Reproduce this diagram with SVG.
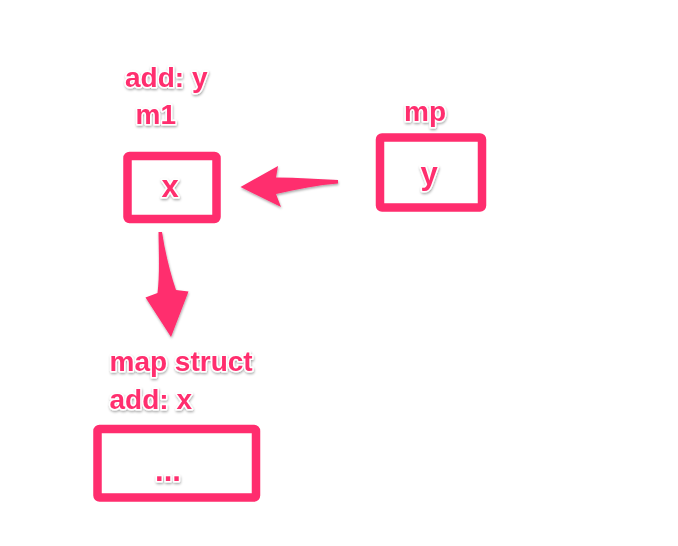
<svg xmlns="http://www.w3.org/2000/svg" width="678" height="546" viewBox="0 0 678 546">
<defs>
<filter id="sh" x="-20%" y="-30%" width="140%" height="160%">
<feDropShadow dx="0.5" dy="1.5" stdDeviation="1" flood-color="#000" flood-opacity="0.35"/>
</filter>
<style>
.box{fill:#fff;stroke:#FF2D6E;stroke-width:8.5;stroke-linejoin:round}
.t{font-family:"Liberation Sans",Arial,sans-serif;font-weight:bold;fill:#FF2D6E;stroke:#fff;stroke-width:3;paint-order:stroke;stroke-linejoin:round;filter:url(#sh)}
.lbl{font-size:28px}
.val{font-size:31px;text-anchor:middle}
.arr{fill:#FF2D6E;filter:url(#sh)}
</style>
</defs>
<rect width="678" height="546" fill="#fff"/>
<g id="m1">
<text class="t lbl" x="125" y="87">add: y</text>
<text class="t lbl" x="135.5" y="124">m1</text>
<rect class="box" x="127.5" y="156" width="89" height="63" rx="2"/>
<text class="t val" x="170" y="197">x</text>
</g>
<g id="mp">
<text class="t lbl" x="404" y="121">mp</text>
<rect class="box" x="380" y="137.5" width="102" height="70" rx="2"/>
<text class="t val" x="429" y="184">y</text>
</g>
<g id="mapstruct">
<text class="t lbl" x="109.5" y="371">map struct</text>
<text class="t lbl" x="109.5" y="409">add: x</text>
<rect class="box" x="97.5" y="429" width="158.5" height="68.5" rx="2"/>
<text class="t val" x="168" y="481">...</text>
</g>
<g id="connectors">
<path class="arr" d="M338,180 C318,179 298,177.5 276,177.5 L278,166 L240.5,187 L281,207 L276,194 C298,189 318,185 338,183.5 Z"/>
<path class="arr" d="M158.5,232 C159,258 159.5,278 157.5,293 L145.5,297.5 L171,337 L188.5,291.5 L176,290 C170,272 165,252 162,232 Z"/>
</g>
</svg>
